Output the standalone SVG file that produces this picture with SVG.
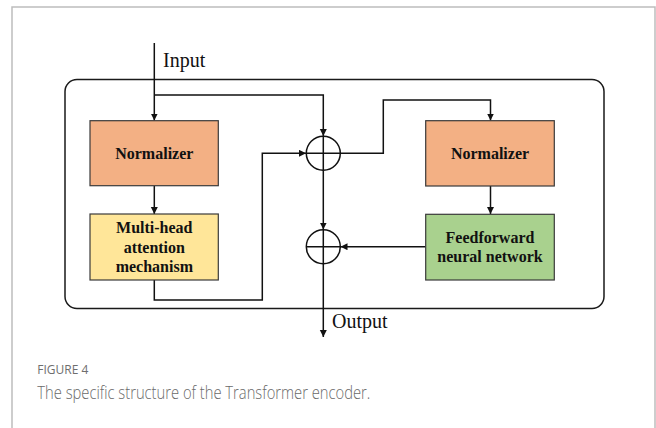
<svg xmlns="http://www.w3.org/2000/svg" width="656" height="428" viewBox="0 0 656 428">
<style>
.frame{fill:none;stroke:#bdbdbd;stroke-width:1.5}
.outer{fill:none;stroke:#1a1a1a;stroke-width:1.5}
.box{stroke:#3a3a3a;stroke-width:1.2}
.norm{fill:#F3B084}
.mha{fill:#FFE699}
.ffn{fill:#A9D18E}
.lbl{font-family:"Liberation Serif","Times New Roman",serif;font-weight:bold;font-size:16px;fill:#111;text-anchor:middle}
.io{font-family:"Liberation Serif","Times New Roman",serif;font-size:20px;fill:#111}
.conn{fill:none;stroke:#111;stroke-width:1.5}
.sum{fill:none;stroke:#111;stroke-width:1.5}
.cap1{font-family:"Open Sans","Noto Sans",sans-serif;font-size:13px;fill:#6e6e6e}
.cap2{font-family:"Open Sans","Noto Sans",sans-serif;font-weight:300;font-size:19px;fill:#6a6a6a}
</style>
<defs>
<marker id="arr" markerUnits="userSpaceOnUse" markerWidth="8" markerHeight="8" refX="7" refY="3.5" orient="auto">
<path d="M0,0 L7,3.5 L0,7 z" fill="#111"/>
</marker>
</defs>
<rect width="656" height="428" fill="#fff"/>
<path class="frame" d="M12,430 V7 H655 V430"/>
<rect id="encoder" class="outer" x="65" y="79.5" width="539" height="229" rx="12"/>
<g id="connectors">
<path class="conn" d="M154.3,43 V120.5" marker-end="url(#arr)"/>
<path class="conn" d="M154.3,95 H323.3 V136" marker-end="url(#arr)"/>
<path class="conn" d="M154.3,185.7 V214" marker-end="url(#arr)"/>
<path class="conn" d="M154.3,280 V300 H262.3 V153.3 H306" marker-end="url(#arr)"/>
<path class="conn" d="M340.3,153.3 H383.3 V100 H490.5 V120.5" marker-end="url(#arr)"/>
<path class="conn" d="M490.5,186 V214" marker-end="url(#arr)"/>
<path class="conn" d="M425.7,246.7 H340.5" marker-end="url(#arr)"/>
<path class="conn" d="M323.3,170.3 V229.5" marker-end="url(#arr)"/>
<path class="conn" d="M323.3,263.7 V337" marker-end="url(#arr)"/>
</g>
<g id="input-label"><text class="io" x="163" y="67">Input</text></g>
<g id="output-label"><text class="io" x="332" y="328">Output</text></g>
<g id="normalizer1">
<rect class="box norm" x="90" y="120.7" width="128.3" height="65"/>
<text class="lbl" x="154.3" y="159.3">Normalizer</text>
</g>
<g id="mha">
<rect class="box mha" x="90" y="214" width="128.3" height="66"/>
<text class="lbl" x="154.3" y="233.3">Multi-head</text>
<text class="lbl" x="154.3" y="252.5">attention</text>
<text class="lbl" x="154.3" y="271.7">mechanism</text>
</g>
<g id="add1">
<circle class="sum" cx="323.3" cy="153.3" r="17"/>
<path class="sum" d="M306.3,153.3 H340.3 M323.3,136.3 V170.3"/>
</g>
<g id="add2">
<circle class="sum" cx="323.3" cy="246.7" r="17"/>
<path class="sum" d="M306.3,246.7 H340.3 M323.3,229.7 V263.7"/>
</g>
<g id="normalizer2">
<rect class="box norm" x="425.7" y="120.7" width="128.6" height="65.3"/>
<text class="lbl" x="490" y="159">Normalizer</text>
</g>
<g id="ffn">
<rect class="box ffn" x="425.7" y="214.3" width="128.6" height="65.7"/>
<text class="lbl" x="490" y="242.7">Feedforward</text>
<text class="lbl" x="490" y="261.7">neural network</text>
</g>
<g id="caption">
<text class="cap1" x="37.3" y="374.3" textLength="51" lengthAdjust="spacingAndGlyphs">FIGURE 4</text>
<text class="cap2" x="37.3" y="399.3" textLength="333" lengthAdjust="spacingAndGlyphs">The specific structure of the Transformer encoder.</text>
</g>
</svg>
